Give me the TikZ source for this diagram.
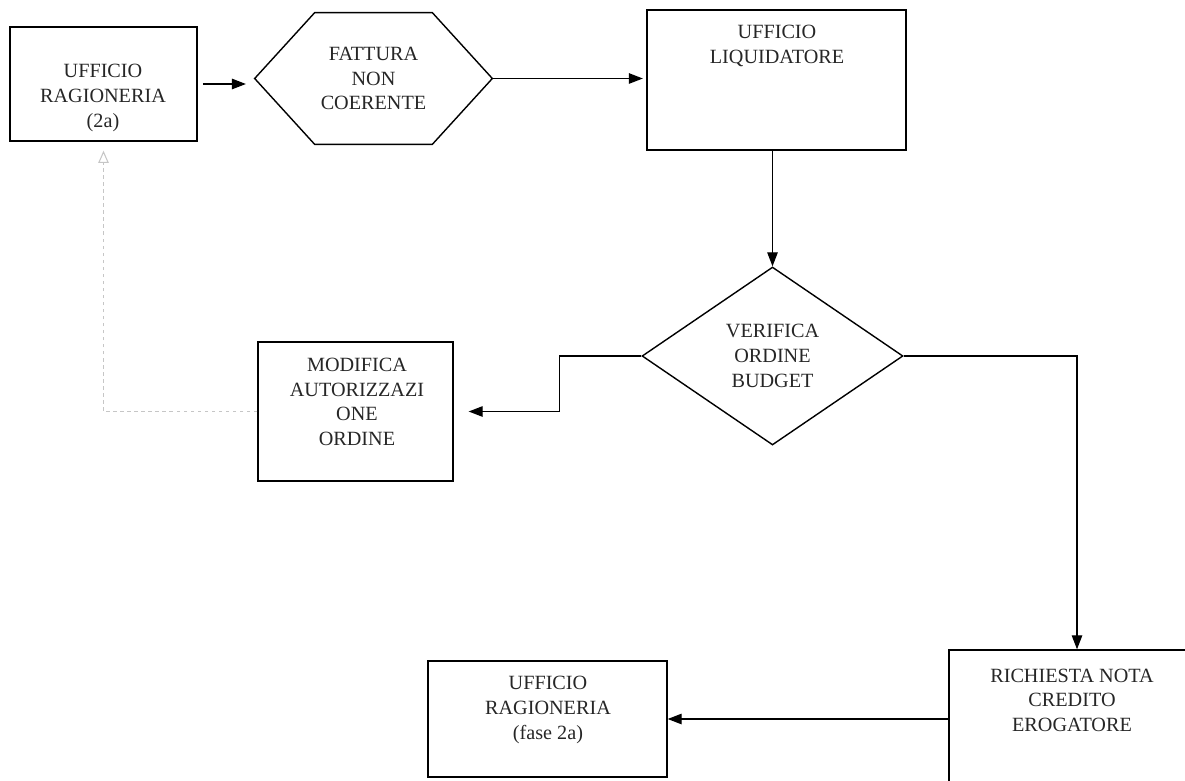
\documentclass[tikz,border=0pt]{standalone}
\usepackage{fontspec}
\setmainfont{Liberation Serif}
\usetikzlibrary{positioning,arrows.meta,shapes.geometric}

\begin{document}
\begin{tikzpicture}[x=0.02cm,y=-0.02cm,
  box/.style={draw,line width=0.8pt,inner sep=0pt},
  txt/.style={align=center,text=black!85,font=\fontsize{11.5}{14}\selectfont},
  arr/.style={line width=0.7pt,-{Triangle[length=8pt,width=6pt]}},
  back/.style={gray!45,line width=0.6pt,dash pattern=on 2pt off 2pt,-{Triangle[open,length=7pt,width=6pt]}}]
\useasboundingbox (0,0) rectangle (1185,780);
\clip (0,0) rectangle (1185,780);
% boxes
\node[box,minimum width=3.74cm,minimum height=2.28cm] (rag1) at (103.5,84) {};
\node[txt] (rag1txt) at (103,98) {UFFICIO\\RAGIONERIA\\(2a)};
\node[txt,minimum width=4.74cm,minimum height=2.62cm,inner sep=0pt] (fatt) at (373.5,78.5) {FATTURA\\NON\\COERENTE};
\draw[line width=0.8pt] (fatt.west) -- ([xshift=1.2cm]fatt.north west) -- ([xshift=-1.2cm]fatt.north east)
  -- (fatt.east) -- ([xshift=-1.2cm]fatt.south east) -- ([xshift=1.2cm]fatt.south west) -- cycle;
\node[box,minimum width=5.18cm,minimum height=2.8cm] (liq) at (776.5,80) {};
\node[txt] (liqtxt) at (777,46) {UFFICIO\\LIQUIDATORE};
\node[box,diamond,aspect=1.47,minimum width=5.22cm,minimum height=3.56cm,txt] (ver) at (772.5,356) {VERIFICA\\ORDINE\\BUDGET};
\node[box,minimum width=3.9cm,minimum height=2.78cm] (mod) at (355.5,411.5) {};
\node[txt] (modtxt) at (357,402) {MODIFICA\\AUTORIZZAZI\\ONE\\ORDINE};
\node[box,minimum width=5.12cm,minimum height=3cm] (rich) at (1077,725) {};
\node[txt] (richtxt) at (1072,700) {RICHIESTA NOTA\\CREDITO\\EROGATORE};
\node[box,minimum width=4.78cm,minimum height=2.32cm] (rag2) at (547.5,719) {};
\node[txt] (rag2txt) at (548,710) {UFFICIO\\RAGIONERIA\\(fase 2a)};
% connectors
\draw[arr,shorten <=3pt,shorten >=5pt] (rag1.east) -- (rag1.east -| fatt.west);
\draw[arr,shorten >=2pt] (fatt.east) -- (fatt.east -| liq.west);
\draw[arr] (ver.north |- liq.south) -- (ver.north);
\draw[arr,shorten >=0.3cm] (ver.west) -- ++(-82,0) |- (mod.east);
\draw[back,shorten >=0.18cm] (mod.west) -| (rag1.south);
\draw[arr] (ver.east) -| (rich.north);
\draw[arr] (rich.west |- rag2.east) -- (rag2.east);
\end{tikzpicture}
\end{document}
